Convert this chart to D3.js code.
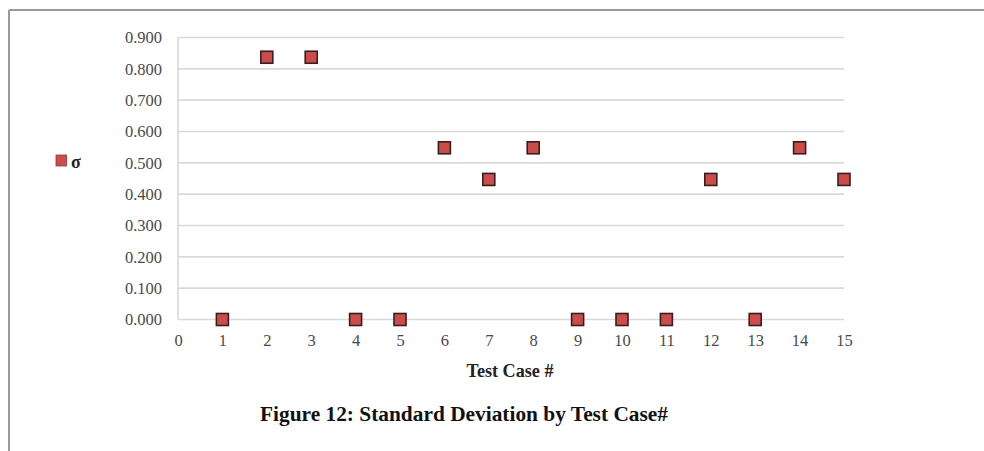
<!DOCTYPE html>
<html><head><meta charset="utf-8">
<script src="https://cdn.jsdelivr.net/npm/d3@7"></script>
<style>
body{margin:0;background:#fff;}
svg{display:block;}
</style></head>
<body>
<svg id="chart" width="984" height="451"></svg>
<script>
const testCases = [1,2,3,4,5,6,7,8,9,10,11,12,13,14,15];
const sigma = [0,0.837,0.837,0,0,0.548,0.447,0.548,0,0,0,0.447,0,0.548,0.447];
const yTicks = [0,0.1,0.2,0.3,0.4,0.5,0.6,0.7,0.8,0.9];
const xTicks = [0,1,2,3,4,5,6,7,8,9,10,11,12,13,14,15];
const seriesName = "σ";
const xTitle = "Test Case #";
const figTitle = "Figure 12: Standard Deviation by Test Case#";

const svg = d3.select("#chart");
const font = "'Liberation Serif','Times New Roman',serif";

// page border
svg.append("line").attr("x1",9).attr("x2",984).attr("y1",10).attr("y2",10).attr("stroke","#9a9a9a").attr("stroke-width",2);
svg.append("line").attr("x1",9).attr("x2",9).attr("y1",10).attr("y2",451).attr("stroke","#9a9a9a").attr("stroke-width",2);

const x = d3.scaleLinear().domain([0,15]).range([178,844]);
const y = d3.scaleLinear().domain([0,0.9]).range([319.5,37.5]);

// gridlines
svg.append("g").selectAll("line").data(yTicks).join("line")
  .attr("x1",x(0)).attr("x2",x(15))
  .attr("y1",d=>y(d)).attr("y2",d=>y(d))
  .attr("stroke","#d9d9d9").attr("stroke-width",1.6);
// left axis line
svg.append("line").attr("x1",x(0)).attr("x2",x(0)).attr("y1",y(0.9)).attr("y2",y(0))
  .attr("stroke","#d9d9d9").attr("stroke-width",1.6);

// y axis labels
const yAxis = d3.axisLeft(y).tickValues(yTicks).tickFormat(d3.format(".3f")).tickSize(0).tickPadding(16);
const gy = svg.append("g").attr("transform",`translate(${x(0)},0)`).call(yAxis);
gy.select(".domain").remove();
gy.selectAll("text").attr("font-family",font).attr("font-size",16.5).attr("fill","#4a4a4a");

// x axis labels
const xAxis = d3.axisBottom(x).tickValues(xTicks).tickFormat(d3.format("d")).tickSize(0).tickPadding(15);
const gx = svg.append("g").attr("transform",`translate(0,${y(0)})`).call(xAxis);
gx.select(".domain").remove();
gx.selectAll("text").attr("font-family",font).attr("font-size",16.5).attr("fill","#4a4a4a");

// markers
const s = 12;
svg.append("g").selectAll("rect").data(testCases.map((t,i)=>({t,v:sigma[i]}))).join("rect")
  .attr("x",d=>x(d.t)-s/2).attr("y",d=>y(d.v)-s/2)
  .attr("width",s).attr("height",s)
  .attr("fill","#cf4b4b").attr("stroke","#352020").attr("stroke-width",1.6);

// legend
svg.append("rect").attr("x",56).attr("y",155).attr("width",10.5).attr("height",11)
  .attr("fill","#cf4b4b").attr("stroke","#8a3a3a").attr("stroke-width",0.8);
svg.append("text").attr("x",71).attr("y",168).text(seriesName)
  .attr("font-family",font).attr("font-size",18).attr("font-weight","bold").attr("fill","#222");

// axis title
svg.append("text").attr("x",510).attr("y",377).attr("text-anchor","middle").text(xTitle)
  .attr("font-family",font).attr("font-size",18).attr("font-weight","bold").attr("fill","#222")
  .attr("textLength",87).attr("lengthAdjust","spacingAndGlyphs");

// figure caption
svg.append("text").attr("x",464).attr("y",421).attr("text-anchor","middle").text(figTitle)
  .attr("font-family",font).attr("font-size",20.5).attr("font-weight","bold").attr("fill","#111")
  .attr("textLength",408).attr("lengthAdjust","spacingAndGlyphs");
</script>
</body></html>
